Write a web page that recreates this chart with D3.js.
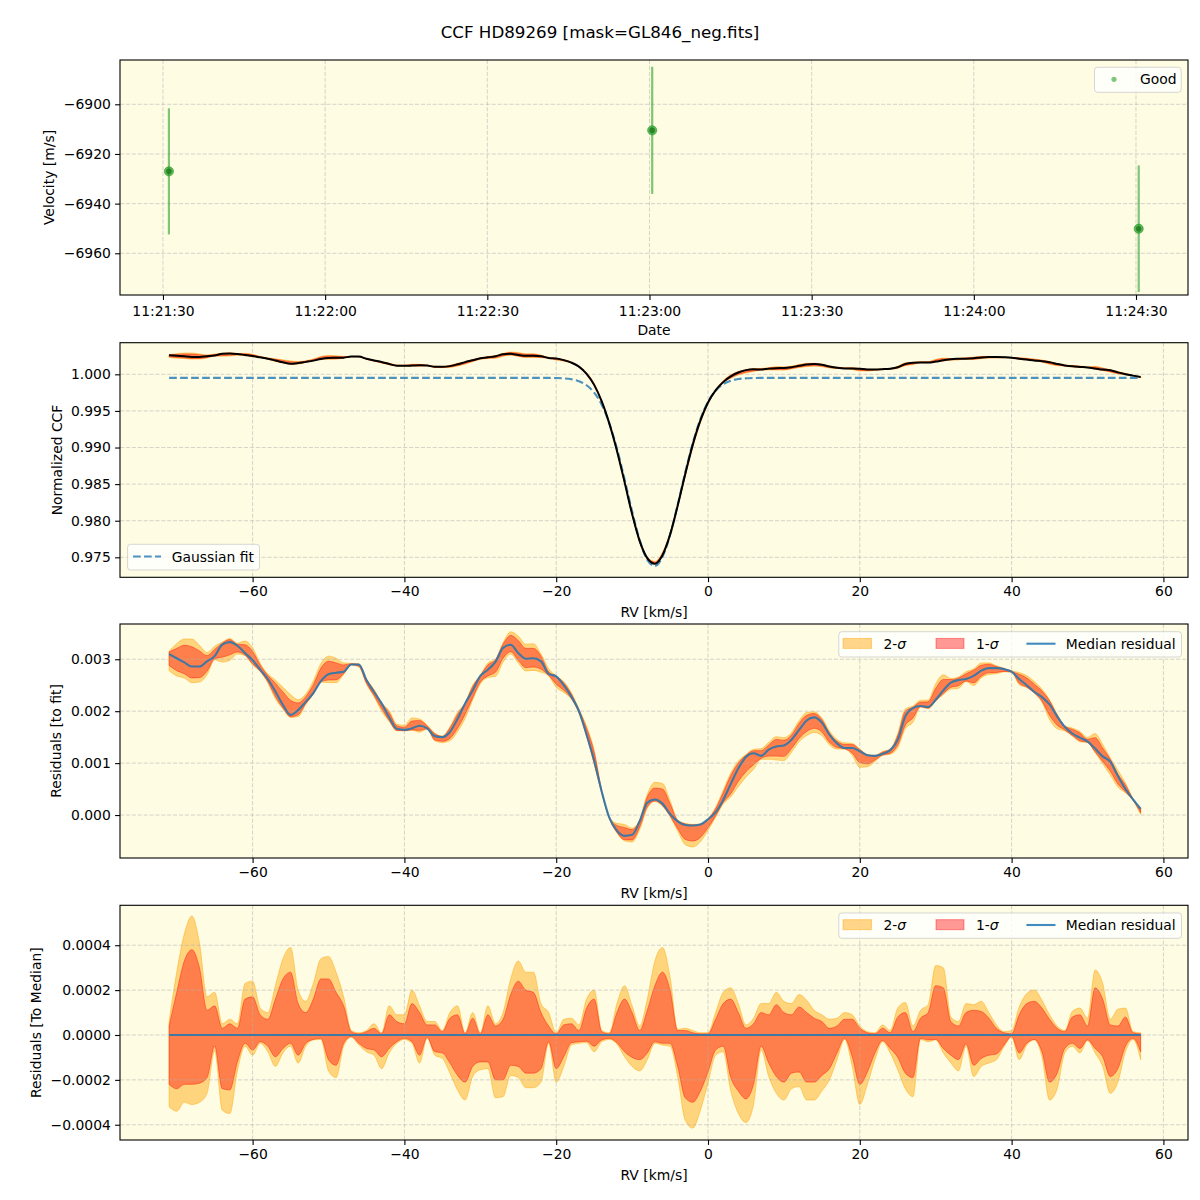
<!DOCTYPE html>
<html><head><meta charset="utf-8">
<script src="https://cdn.jsdelivr.net/npm/d3@7"></script>
<style>body{margin:0;background:#fff} text{font-family:"DejaVu Sans",sans-serif}</style>
</head><body><svg id="c" width="1200" height="1200" xmlns="http://www.w3.org/2000/svg"></svg>
<script>
// ---------------- DATA ----------------
const title = "CCF HD89269 [mask=GL846_neg.fits]";
const obsTimes = ["2024-01-01T11:21:31.1Z","2024-01-01T11:23:00.5Z","2024-01-01T11:24:30.5Z"];
const obsVel = [-6927.0, -6910.5, -6950.1];
const obsErr = [25.4, 25.6, 25.5];
const timeTicks = ["2024-01-01T11:21:30Z","2024-01-01T11:22:00Z","2024-01-01T11:22:30Z","2024-01-01T11:23:00Z","2024-01-01T11:23:30Z","2024-01-01T11:24:00Z","2024-01-01T11:24:30Z"];
const velTicks = [-6960,-6940,-6920,-6900];
const rvTicks = [-60,-40,-20,0,20,40,60];
const ccfTicks = [0.975,0.980,0.985,0.990,0.995,1.000];
const resTicks = [0.000,0.001,0.002,0.003];
const medTicks = [-0.0004,-0.0002,0.0000,0.0002,0.0004];

const rv = [-71,-70,-69,-68,-67,-66,-65,-64,-63,-62,-61,-60,-59,-58,-57,-56,-55,-54,-53,-52,-51,-50,-49,-48,-47,-46,-45,-44,-43,-42,-41,-40,-39,-38,-37,-36,-35,-34,-33,-32,-31,-30,-29,-28,-27,-26,-25,-24,-23,-22,-21,-20,-19,-18,-17,-16,-15,-14,-13,-12,-11,-10,-9,-8,-7,-6,-5,-4,-3,-2,-1,0,1,2,3,4,5,6,7,8,9,10,11,12,13,14,15,16,17,18,19,20,21,22,23,24,25,26,27,28,29,30,31,32,33,34,35,36,37,38,39,40,41,42,43,44,45,46,47,48,49,50,51,52,53,54,55,56,57];

// Gaussian fit parameters of the CCF
const gaussFit = {continuum: 0.99952, depth: 0.0257, center: -7.1, sigma: 3.5};

// median residual to the fit
const medianResidual = [0.00310,0.00302,0.00294,0.00286,0.00286,0.00296,0.00306,0.00328,0.00333,0.00326,
0.00312,0.00298,0.00280,0.00262,0.00238,0.00212,0.00193,0.00202,0.00218,0.00235,
0.00258,0.00271,0.00274,0.00276,0.00290,0.00290,0.00260,0.00237,0.00215,0.00188,
0.00166,0.00164,0.00167,0.00172,0.00167,0.00152,0.00150,0.00160,0.00185,0.00215,
0.00240,0.00268,0.00280,0.00295,0.00322,0.00328,0.00312,0.00301,0.00302,0.00296,
0.00272,0.00267,0.00250,0.00228,0.00200,0.00155,0.00105,0.00045,-0.00005,-0.00030,
-0.00040,-0.00038,-0.00012,0.00024,0.00030,0.00022,0.00002,-0.00012,-0.00019,-0.00020,
-0.00018,-0.00008,0.00005,0.00029,0.00060,0.00090,0.00112,0.00119,0.00114,0.00126,
0.00132,0.00134,0.00145,0.00164,0.00182,0.00188,0.00178,0.00155,0.00138,0.00129,
0.00129,0.00123,0.00115,0.00114,0.00118,0.00125,0.00145,0.00190,0.00206,0.00210,
0.00208,0.00222,0.00240,0.00255,0.00260,0.00262,0.00268,0.00278,0.00283,0.00283,
0.00281,0.00276,0.00262,0.00250,0.00237,0.00227,0.00213,0.00190,0.00170,0.00157,
0.00149,0.00142,0.00128,0.00113,0.00103,0.00075,0.00050,0.00030,0.00012];

// band edges relative to the median, in units of 1e-4
const UNIT = 1e-4;
const hi1 = [0.4,1.9,3.3,3.8,3.0,1.1,1.3,0.3,0.5,0.3,
1.6,1.7,0.9,0.7,1.6,2.5,2.8,1.4,1.0,1.6,
2.5,2.5,1.9,1.3,0.15,0.05,0.15,0.3,0.05,0.9,
0.6,0.5,1.4,1.0,0.45,0.45,0.15,0.75,0.9,0.05,
0.75,0.05,0.9,0.4,0.7,1.8,2.4,2.0,1.9,1.0,
0.4,0.05,0.45,0.5,0.2,1.2,1.6,0.15,0.05,1.0,
1.6,1.0,0.2,1.1,2.2,2.8,2.0,0.2,0.2,0.1,
0.05,0.05,0.7,1.4,1.6,1.0,0.3,0.5,1.0,0.9,
1.35,1.0,0.9,1.25,1.0,0.75,0.6,0.3,0.4,0.7,
0.7,0.3,0.1,0.05,0.3,0.1,0.8,1.0,0.15,0.75,
1.0,2.2,2.1,0.6,0.4,1.0,1.1,1.05,0.75,0.3,
0.1,0.05,0.9,1.4,1.5,1.2,0.7,0.3,0.15,0.8,
0.9,0.4,2.1,1.6,0.45,0.4,0.8,0.1,0.05];
const hi2 = [0.6,2.8,4.5,5.3,4.1,1.7,1.9,0.5,0.7,0.5,
2.3,2.4,1.2,1.0,2.2,3.4,3.9,2.0,1.5,2.3,
3.4,3.5,2.8,1.7,0.2,0.1,0.2,0.5,0.1,1.3,
0.9,0.9,2.0,1.3,0.6,0.6,0.2,1.0,1.3,0.1,
1.0,0.1,1.3,0.5,1.0,2.5,3.3,2.8,2.8,1.4,
1.0,0.1,0.7,0.75,0.45,1.6,2.0,0.2,0.1,1.4,
2.2,1.3,0.4,1.6,3.3,3.9,2.6,0.25,0.3,0.2,
0.1,0.1,1.0,1.9,2.1,1.4,0.45,0.75,1.4,1.4,
1.9,1.5,1.4,1.8,1.55,1.1,0.9,0.7,0.75,1.0,
0.9,0.4,0.15,0.1,0.45,0.2,1.2,1.45,0.4,1.1,
1.35,3.1,3.0,0.8,0.6,1.4,1.35,1.5,1.0,0.45,
0.15,0.2,1.25,1.85,2.0,1.55,0.9,0.4,0.2,1.05,
1.2,0.75,2.9,2.3,0.7,1.15,1.2,0.15,0.1];
const lo1 = [-2.2,-2.4,-2.2,-2.2,-2.15,-1.9,-0.5,-2.4,-2.45,-1.2,
-0.37,-0.67,-0.3,-0.5,-0.97,-0.6,-0.37,-0.9,-0.37,-0.2,
-0.15,-1.1,-1.35,-0.37,-0.07,-0.37,-0.6,-0.67,-0.97,-0.6,
-0.3,-0.15,-0.3,-0.9,-0.1,-0.75,-0.8,-1.25,-1.8,-2.1,
-1.4,-1.2,-1.2,-2.0,-2.0,-1.35,-1.4,-1.7,-1.7,-1.5,
-0.3,-1.5,-0.97,-0.35,-0.3,-0.28,-0.5,-0.22,-0.15,-0.35,
-0.75,-1.0,-1.1,-0.8,-0.3,-0.37,-0.37,-1.4,-2.8,-3.0,
-2.5,-1.65,-0.67,-0.5,-1.9,-2.5,-2.85,-2.2,-0.5,-1.25,
-1.85,-2.1,-1.7,-1.65,-2.1,-2.1,-1.8,-1.5,-0.8,-0.15,
-0.97,-2.2,-1.65,-0.8,-0.25,-0.6,-1.0,-1.7,-1.9,-0.15,
-0.22,-0.2,-0.6,-0.9,-1.1,-0.4,-1.35,-1.05,-0.9,-0.85,
-0.45,-0.07,-0.8,-0.37,-0.2,-0.75,-2.1,-1.7,-0.6,-0.37,
-0.6,-0.22,-0.6,-0.97,-1.85,-1.5,-0.5,-0.15,-0.75];
const lo2 = [-3.2,-3.4,-3.0,-3.1,-3.0,-2.6,-0.7,-3.35,-3.5,-1.6,
-0.5,-0.9,-0.37,-0.75,-1.4,-0.8,-0.5,-1.25,-0.5,-0.22,
-0.2,-1.6,-1.9,-0.5,-0.1,-0.45,-0.75,-0.9,-1.5,-0.8,
-0.37,-0.2,-0.37,-1.25,-0.15,-0.9,-1.05,-1.7,-2.45,-2.9,
-1.85,-1.55,-1.5,-2.8,-2.75,-1.8,-1.9,-2.35,-2.35,-2.1,
-0.37,-2.1,-1.4,-0.45,-0.37,-0.34,-0.75,-0.3,-0.2,-0.4,
-0.97,-1.4,-1.6,-1.1,-0.37,-0.45,-0.5,-1.85,-3.8,-4.15,
-3.35,-2.15,-0.9,-0.75,-2.5,-3.5,-3.9,-3.1,-0.67,-1.85,
-2.6,-2.9,-2.4,-2.3,-2.9,-2.9,-2.5,-2.0,-1.1,-0.2,
-1.4,-3.1,-2.2,-1.1,-0.3,-0.8,-1.55,-2.4,-2.75,-0.2,
-0.3,-0.22,-0.8,-1.25,-1.6,-0.5,-1.85,-1.4,-1.25,-1.1,
-0.52,-0.1,-1.1,-0.45,-0.22,-0.97,-2.9,-2.4,-0.8,-0.5,
-0.8,-0.25,-0.8,-1.4,-2.6,-2.1,-0.75,-0.2,-1.1];

// ---------------- LAYOUT / STYLE ----------------
const svg = d3.select("#c");
const L = 120, R = 1188;
const P = [{t:60,b:295},{t:342.7,b:577.3},{t:624,b:858},{t:905.3,b:1140}];
const BG = "#fefce3";
const FS = 13.9;
const C_ORANGE = "#ffa500", C_RED = "#ff0000", C_BLUE = "#1f77b4", C_GREEN = "#2ca02c";

svg.append("rect").attr("width",1200).attr("height",1200).attr("fill","#fff");
svg.append("text").attr("x",600).attr("y",38).attr("text-anchor","middle").attr("font-size",16.7).text(title);

const xRV = d3.scaleLinear().domain([-77.47, 63.24]).range([L,R]);
const tParse = d3.isoParse;
const xT = d3.scaleUtc().domain([tParse("2024-01-01T11:21:22.05Z"), tParse("2024-01-01T11:24:39.62Z")]).range([L,R]);
const yV = d3.scaleLinear().domain([-6976.8, -6882.16]).range([P[0].b, P[0].t]);
const yC = d3.scaleLinear().domain([0.97227, 1.00432]).range([P[1].b, P[1].t]);
const yR = d3.scaleLinear().domain([-0.000827, 0.003679]).range([P[2].b, P[2].t]);
const yM = d3.scaleLinear().domain([-0.000468, 0.000578]).range([P[3].b, P[3].t]);

const fit = rv.map(v => gaussFit.continuum - gaussFit.depth*Math.exp(-0.5*Math.pow((v-gaussFit.center)/gaussFit.sigma,2)));
const rows = rv.map((v,i)=>({rv:v, fit:fit[i], med:medianResidual[i], h1:hi1[i]*UNIT, h2:hi2[i]*UNIT, l1:lo1[i]*UNIT, l2:lo2[i]*UNIT}));

function bg(p){ svg.append("rect").attr("x",L).attr("y",p.t).attr("width",R-L).attr("height",p.b-p.t).attr("fill",BG); }
function frame(p){ svg.append("rect").attr("x",L).attr("y",p.t).attr("width",R-L).attr("height",p.b-p.t).attr("fill","none").attr("stroke","#000").attr("stroke-width",1.1); }
function grid(p, xs, xt, ys, yt){
  const g = svg.append("g");
  xt.forEach(v=>g.append("line").attr("x1",xs(v)).attr("x2",xs(v)).attr("y1",p.t).attr("y2",p.b));
  yt.forEach(v=>g.append("line").attr("x1",L).attr("x2",R).attr("y1",ys(v)).attr("y2",ys(v)));
  g.selectAll("line").attr("stroke","#b0b0b0").attr("stroke-opacity",0.6).attr("stroke-width",0.9).attr("stroke-dasharray","4.1,1.8");
}
function axes(p, xs, xt, xf, ys, yt, yf, xlabel, ylabel, ylx, xpad){
  const gx = svg.append("g").attr("transform",`translate(0,${p.b})`)
    .call(d3.axisBottom(xs).tickValues(xt).tickFormat(xf).tickSize(4.9).tickPadding(xpad));
  const gy = svg.append("g").attr("transform",`translate(${L},0)`)
    .call(d3.axisLeft(ys).tickValues(yt).tickFormat(yf).tickSize(4.9).tickPadding(4.3));
  [gx,gy].forEach(g=>{
    g.select(".domain").remove();
    g.attr("font-size",FS).attr("font-family","DejaVu Sans");
    g.selectAll(".tick line").attr("stroke","#000").attr("stroke-width",1.1);
    g.selectAll(".tick text").attr("fill","#000");
  });
  svg.append("text").attr("x",(L+R)/2).attr("y",p.b+40).attr("text-anchor","middle").attr("font-size",FS).text(xlabel);
  svg.append("text").attr("transform",`translate(${ylx},${(p.t+p.b)/2}) rotate(-90)`).attr("text-anchor","middle").attr("font-size",FS).text(ylabel);
}
function legendBox(x,y,w,h){
  svg.append("rect").attr("x",x).attr("y",y).attr("width",w).attr("height",h).attr("rx",3).attr("ry",3)
    .attr("fill","#fff").attr("fill-opacity",0.8).attr("stroke","#cccccc").attr("stroke-opacity",0.8).attr("stroke-width",1);
}
function sigmaLegend(p){
  const y0 = p.t + 7.7;
  legendBox(838.8, y0, 342.7, 25.3);
  const cy = y0 + 12;
  svg.append("rect").attr("x",843).attr("y",cy-5.3).attr("width",28.6).attr("height",10)
    .attr("fill",C_ORANGE).attr("fill-opacity",0.45).attr("stroke",C_ORANGE).attr("stroke-opacity",0.45);
  const t1 = svg.append("text").attr("x",883.5).attr("y",cy+5).attr("font-size",FS);
  t1.append("tspan").text("2-"); t1.append("tspan").attr("font-style","italic").text("σ");
  svg.append("rect").attr("x",936).attr("y",cy-5.3).attr("width",28).attr("height",10)
    .attr("fill",C_RED).attr("fill-opacity",0.4).attr("stroke",C_RED).attr("stroke-opacity",0.4);
  const t2 = svg.append("text").attr("x",976).attr("y",cy+5).attr("font-size",FS);
  t2.append("tspan").text("1-"); t2.append("tspan").attr("font-style","italic").text("σ");
  svg.append("line").attr("x1",1026.4).attr("x2",1055.5).attr("y1",cy).attr("y2",cy)
    .attr("stroke",C_BLUE).attr("stroke-opacity",0.85).attr("stroke-width",2.1);
  svg.append("text").attr("x",1065.7).attr("y",cy+5).attr("font-size",FS).text("Median residual");
}
function bands(yS, base, curve){
  const a2 = d3.area().x(d=>xRV(d.rv)).y0(d=>yS(base(d)+d.l2)).y1(d=>yS(base(d)+d.h2)).curve(curve);
  const a1 = d3.area().x(d=>xRV(d.rv)).y0(d=>yS(base(d)+d.l1)).y1(d=>yS(base(d)+d.h1)).curve(curve);
  svg.append("path").datum(rows).attr("d",a2).attr("fill",C_ORANGE).attr("fill-opacity",0.45)
    .attr("stroke",C_ORANGE).attr("stroke-opacity",0.45).attr("stroke-width",1);
  svg.append("path").datum(rows).attr("d",a1).attr("fill",C_RED).attr("fill-opacity",0.4)
    .attr("stroke",C_RED).attr("stroke-opacity",0.4).attr("stroke-width",1);
}
const curve = d3.curveMonotoneX;

// ---------------- PANEL 1 ----------------
{
  const p = P[0];
  bg(p);
  grid(p, xT, timeTicks.map(tParse), yV, velTicks);
  const pts = obsTimes.map((t,i)=>({t:tParse(t), v:obsVel[i], e:obsErr[i]}));
  const g = svg.append("g");
  g.selectAll(".eb").data(pts).join("line")
    .attr("x1",d=>xT(d.t)).attr("x2",d=>xT(d.t)).attr("y1",d=>yV(d.v-d.e)).attr("y2",d=>yV(d.v+d.e))
    .attr("stroke",C_GREEN).attr("stroke-opacity",0.6).attr("stroke-width",2.2);
  g.selectAll(".pt").data(pts).join("circle")
    .attr("cx",d=>xT(d.t)).attr("cy",d=>yV(d.v)).attr("r",4.6)
    .attr("fill",C_GREEN).attr("fill-opacity",0.75).attr("stroke",C_GREEN).attr("stroke-opacity",0.6);
  g.selectAll(".pt2").data(pts).join("circle")
    .attr("cx",d=>xT(d.t)).attr("cy",d=>yV(d.v)).attr("r",2.8)
    .attr("fill","#1e7a1e").attr("fill-opacity",0.8);
  frame(p);
  axes(p, xT, timeTicks.map(tParse), d3.utcFormat("%H:%M:%S"), yV, velTicks, d3.format("d"), "Date", "Velocity [m/s]", 54, 5.8);
  legendBox(1094.5, 67.3, 86.7, 25);
  svg.append("circle").attr("cx",1114).attr("cy",79.3).attr("r",2.6).attr("fill",C_GREEN).attr("fill-opacity",0.6);
  svg.append("text").attr("x",1140).attr("y",84.3).attr("font-size",FS).text("Good");
}

// ---------------- PANEL 2 ----------------
{
  const p = P[1];
  bg(p);
  grid(p, xRV, rvTicks, yC, ccfTicks);
  bands(yC, d=>d.fit+d.med, curve);
  svg.append("path").datum(rows).attr("d", d3.line().x(d=>xRV(d.rv)).y(d=>yC(d.fit)).curve(curve))
    .attr("fill","none").attr("stroke",C_BLUE).attr("stroke-opacity",0.8).attr("stroke-width",2.1).attr("stroke-dasharray","7.7,3.3");
  svg.append("path").datum(rows).attr("d", d3.line().x(d=>xRV(d.rv)).y(d=>yC(d.fit+d.med)).curve(curve))
    .attr("fill","none").attr("stroke","#000").attr("stroke-width",2);
  frame(p);
  axes(p, xRV, rvTicks, d3.format("d"), yC, ccfTicks, d3.format(".3f"), "RV [km/s]", "Normalized CCF", 62, 4.3);
  legendBox(127.6, 544.3, 131.9, 25.7);
  svg.append("line").attr("x1",133).attr("x2",161).attr("y1",556.5).attr("y2",556.5)
    .attr("stroke",C_BLUE).attr("stroke-opacity",0.8).attr("stroke-width",2.1).attr("stroke-dasharray","7.7,3.3");
  svg.append("text").attr("x",171.7).attr("y",561.5).attr("font-size",FS).text("Gaussian fit");
}

// ---------------- PANEL 3 ----------------
{
  const p = P[2];
  bg(p);
  bands(yR, d=>d.med, curve);
  grid(p, xRV, rvTicks, yR, resTicks);
  svg.append("path").datum(rows).attr("d", d3.line().x(d=>xRV(d.rv)).y(d=>yR(d.med)).curve(curve))
    .attr("fill","none").attr("stroke",C_BLUE).attr("stroke-opacity",0.85).attr("stroke-width",2.1);
  frame(p);
  axes(p, xRV, rvTicks, d3.format("d"), yR, resTicks, d3.format(".3f"), "RV [km/s]", "Residuals [to fit]", 60.5, 4.3);
  sigmaLegend(p);
}

// ---------------- PANEL 4 ----------------
{
  const p = P[3];
  bg(p);
  bands(yM, d=>0, curve);
  grid(p, xRV, rvTicks, yM, medTicks);
  svg.append("path").datum(rows).attr("d", d3.line().x(d=>xRV(d.rv)).y(d=>yM(0)))
    .attr("fill","none").attr("stroke",C_BLUE).attr("stroke-opacity",0.85).attr("stroke-width",2.1);
  frame(p);
  axes(p, xRV, rvTicks, d3.format("d"), yM, medTicks, d3.format(".4f"), "RV [km/s]", "Residuals [To Median]", 40.5, 4.3);
  sigmaLegend(p);
}
</script></body></html>
